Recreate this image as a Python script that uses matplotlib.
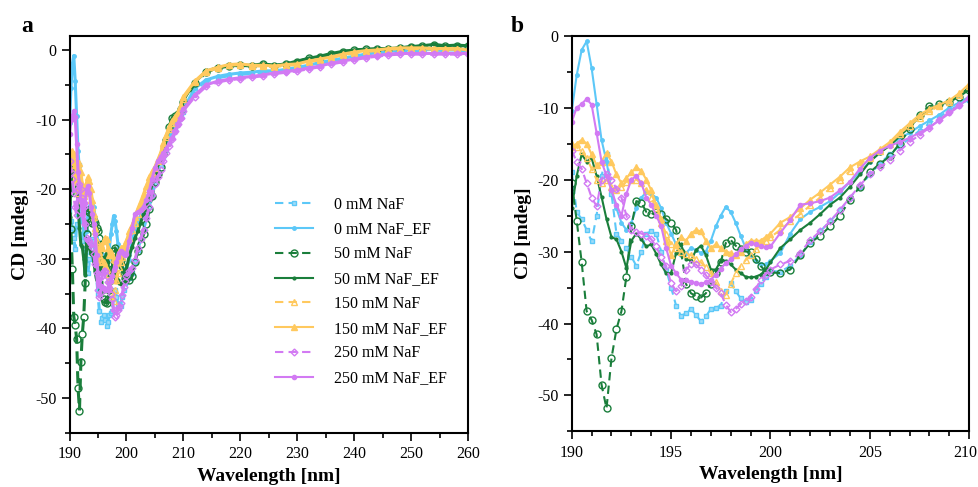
import numpy as np
import matplotlib.pyplot as plt
from matplotlib.ticker import MultipleLocator
from matplotlib.transforms import ScaledTranslation

plt.rcParams['font.family'] = ['Liberation Serif', 'DejaVu Serif']
plt.rcParams['axes.unicode_minus'] = False

# wavelength grid the values were read on (nm)
wl = np.concatenate([np.arange(190, 200.01, 0.25),
                     np.arange(200.5, 210.01, 0.5),
                     np.arange(212, 260.01, 2)])

# CD [mdeg]
naf0 = ([-19, -24.5, -25.5, -27, -28.6, -25, -19.5, -16.5, -22, -27.5,
         -28.5, -29.5, -30.7, -32, -30, -27.5, -27.2, -27.5, -30, -32.5,
         -35, -37.5, -39, -38.5, -38, -38.8, -39.7, -39, -38, -37.8,
         -37.5, -35.5, -34.4, -35.5, -36.5, -37, -36.7, -35.5, -34.5, -33.5, -32.7]
        + [-32.8, -32, -30.5, -28.7, -27.2, -25.8, -24.3, -22.5, -21, -19.3,
           -17.8, -16.5, -15.3, -14.3, -13.2, -12.2, -11.3, -10.4, -9.6, -8.9]
        + [-5.7, -4.5, -4, -3.7, -3.5, -3.4, -3.2, -3.1, -2.9, -2.6, -2.3, -1.9,
           -1.6, -1.3, -1, -0.7, -0.5, -0.3, -0.2, -0.1, -0.1, 0, -0.1, -0.1, -0.1])
naf0_ef = ([-10.5, -5.5, -2, -0.8, -4.5, -9.5, -14.5, -17.5, -21.5, -24,
            -26, -27, -26, -24, -22.5, -21.8, -22, -22.5, -24, -26,
            -27.5, -29, -30.5, -30.2, -29.5, -29.8, -30.2, -30, -28.5, -26.5,
            -25, -23.8, -24.5, -26, -27.8, -29.5, -30.5, -31.3, -31.8, -31.8, -31.3]
           + [-30.2, -27.5, -25.5, -24.5, -23.8, -23, -21.8, -20.3, -19, -17.5,
              -16.3, -15.2, -14.3, -13.5, -12.6, -11.8, -11, -10, -9.3, -8.5]
           + [-5.5, -4.3, -3.8, -3.5, -3.3, -3.2, -3, -3, -2.8, -2.5, -2.2, -1.8,
              -1.5, -1.2, -0.9, -0.6, -0.4, -0.2, -0.1, 0, 0, 0.1, 0, 0, 0])
naf50 = ([-20.5, -25.7, -31.5, -38.3, -39.5, -41.5, -48.5, -51.8, -44.8, -40.8,
          -38.3, -33.5, -26.5, -23, -23.2, -24.5, -24.8, -24.5, -24.8, -25.5,
          -26, -27, -30, -34.5, -35.8, -36.2, -36.4, -35.8, -34.5, -33,
          -31.5, -28.8, -28.4, -29.2, -29.7, -30, -30.1, -31, -32, -32.7, -32.9]
         + [-33, -32.5, -30.5, -28.8, -27.8, -26.5, -25, -22.8, -21, -19,
            -17.8, -16.8, -15, -13, -11, -9.8, -9.5, -9.2, -8.5, -7.5]
         + [-4.8, -3.2, -2.6, -2.3, -2.2, -2.3, -2, -2.3, -2, -1.7, -1.2, -1,
            -0.6, -0.3, 0, 0.1, 0.1, 0.2, 0.3, 0.4, 0.6, 0.7, 0.6, 0.6, 0.6])
naf50_ef = ([-24, -19.5, -16.5, -17.5, -17, -19.5, -22.4, -25.5, -28, -28.3,
             -30, -32.3, -28.5, -27.5, -28.3, -29.3, -29, -30.3, -31.8, -33,
             -33, -30.2, -29, -31, -31.3, -29.8, -29.2, -30.5, -32.5, -32.5,
             -31.3, -31.3, -31.8, -32.5, -33, -33.5, -33.6, -33.5, -33.2, -32.6, -31.5]
            + [-29.5, -28.3, -27, -26, -24.8, -23.5, -22.5, -21, -19.3, -17.5,
               -16.3, -15.3, -14, -12.7, -11.3, -10.2, -9.6, -9.2, -8.3, -7.2]
            + [-4.6, -3.1, -2.5, -2.3, -2.2, -2.2, -2, -2.2, -2, -1.6, -1.2, -0.9,
               -0.5, -0.2, 0, 0.1, 0.2, 0.2, 0.3, 0.5, 0.6, 0.8, 0.6, 0.7, 0.6])
naf150 = ([-15, -15.5, -16, -17, -18.5, -20, -20.5, -20, -21, -21.5,
           -21, -20.3, -20, -20, -20.5, -21.5, -22.5, -24, -26, -27.5,
           -29, -29.5, -30, -30.3, -30.5, -31, -31.5, -32.2, -33, -34.3,
           -35.5, -36, -34.5, -33, -32, -31.2, -30.5, -29.7, -29, -28.5, -28]
          + [-27, -25.8, -24.8, -23.6, -22.5, -21.2, -20, -18.8, -17.8, -17,
             -16, -15, -13.7, -12.5, -11.4, -10.5, -9.8, -9.2, -8.2, -7]
          + [-4.6, -3.1, -2.6, -2.2, -2.1, -2.3, -2.3, -2.4, -2.2, -2.1, -1.7, -1.4,
             -1.1, -0.7, -0.4, -0.2, -0.1, 0.1, 0.2, 0.2, 0.2, 0.1, 0.1, 0.1, -0.1])
naf150_ef = ([-15.5, -15, -14.5, -15, -16.5, -18, -17.5, -16.3, -17.5, -19.3,
              -20.5, -19.8, -19, -18.3, -18.8, -20, -21.5, -23.5, -25.5, -28.5,
              -30.5, -29, -28, -28.5, -27.5, -27, -27.2, -28.5, -29.5, -29,
              -29.5, -30, -30.2, -30.5, -30, -29, -28.5, -28.5, -28.5, -28, -27.5]
             + [-26, -25.2, -24, -22.8, -21.8, -20.7, -19.6, -18.3, -17.5, -16.8,
                -15.8, -14.8, -13.4, -12.2, -11, -10.2, -9.6, -9, -8, -6.7]
             + [-4.5, -3, -2.5, -2.1, -2, -2.2, -2.2, -2.3, -2.1, -2, -1.6, -1.3,
                -1, -0.6, -0.3, -0.1, 0, 0.2, 0.3, 0.3, 0.3, 0.2, 0.2, 0.2, 0])
naf250 = ([-16, -17.5, -18.5, -20.5, -22.5, -23.7, -20, -19.3, -20, -21.3,
           -22.5, -25, -27, -27.3, -27.5, -27.8, -28.3, -29.3, -30.8, -32,
           -34.4, -35.5, -34.8, -32.5, -31.8, -31.8, -32.5, -33.3, -34.2, -35,
           -35.8, -37.4, -38.4, -38, -37.3, -36.9, -36.3, -35.2, -34, -33.2, -32.5]
          + [-31.8, -31.3, -30.2, -28.4, -27.2, -25.8, -24.2, -22.5, -20.8, -19.3,
             -18.3, -17.3, -16, -14.8, -13.8, -12.8, -11.7, -10.6, -9.7, -8.7]
          + [-6.7, -5.2, -4.6, -4.3, -4.1, -3.9, -3.7, -3.4, -3.2, -3, -2.7, -2.4,
             -2, -1.7, -1.4, -1.1, -0.9, -0.7, -0.6, -0.6, -0.6, -0.6, -0.6, -0.6, -0.6])
naf250_ef = ([-12, -10, -9.5, -8.8, -9.6, -13.5, -17.5, -19.5, -21.5, -23.5,
              -25, -22, -20, -19.5, -20.5, -22.5, -23.5, -25, -26.5, -29.5,
              -32, -33, -33.9, -34, -34.2, -34.4, -34.5, -34.3, -33.9, -33.2,
              -32.4, -31.6, -31.1, -30.4, -29.7, -29.2, -28.8, -29, -29.3, -29.4, -29.3]
             + [-27.4, -25.6, -23.5, -23.3, -23, -22.5, -21.5, -20.3, -18.5, -17,
                -16, -15.3, -14.8, -14.2, -13.5, -12.7, -11.8, -10.8, -9.8, -8.5]
             + [-6.5, -5, -4.5, -4.2, -4, -3.8, -3.6, -3.3, -3.1, -2.9, -2.6, -2.3,
                -1.9, -1.6, -1.3, -1, -0.8, -0.6, -0.5, -0.5, -0.5, -0.5, -0.5, -0.5, -0.5])

labels = ['0 mM NaF', '0 mM NaF_EF', '50 mM NaF', '50 mM NaF_EF',
          '150 mM NaF', '150 mM NaF_EF', '250 mM NaF', '250 mM NaF_EF']
series = [naf0, naf0_ef, naf50, naf50_ef, naf150, naf150_ef, naf250, naf250_ef]

blue, green, yellow, purple = '#5cc8f8', '#1a7e3b', '#ffc95e', '#d27af3'
dash = (0, (4, 2.5))
styles = [
    dict(color=blue, ls=dash, marker='s', ms=3, mfc='#9fdcf8', mec=blue),
    dict(color=blue, ls='-', marker='o', ms=2.5, mfc=blue, mec=blue),
    dict(color=green, ls=dash, marker='o', ms=5, mfc='none', mec=green, mew=1),
    dict(color=green, ls='-', marker='o', ms=2, mfc=green, mec=green),
    dict(color=yellow, ls=dash, marker='^', ms=4, mfc='none', mec=yellow, mew=1),
    dict(color=yellow, ls='-', marker='^', ms=4, mfc=yellow, mec=yellow),
    dict(color=purple, ls=dash, marker='D', ms=3.5, mfc='none', mec=purple, mew=1),
    dict(color=purple, ls='-', marker='o', ms=3, mfc=purple, mec=purple),
]

fig = plt.figure(figsize=(9.79, 4.87), dpi=100)
ax_a = fig.add_axes([0.071, 0.111, 0.407, 0.815])
ax_b = fig.add_axes([0.584, 0.114, 0.406, 0.813])

for ax, lw in ((ax_a, 2.2), (ax_b, 1.5)):
    for y, lab, st in zip(series, labels, styles):
        ax.plot(wl, y, lw=lw, label=lab, **st)
    ax.set_xlabel('Wavelength [nm]', fontsize=14, fontweight='bold')
    ax.set_ylabel('CD [mdeg]', fontsize=14, fontweight='bold')
    ax.tick_params(which='major', direction='out', length=6, width=1.2, labelsize=11.5)
    ax.tick_params(which='minor', direction='out', length=3.5, width=1.2)
    ax.yaxis.set_minor_locator(MultipleLocator(5))
    for sp in ax.spines.values():
        sp.set_linewidth(1.5)

ax_a.set_xlim(190, 260)
ax_a.set_ylim(-55, 2)
ax_a.xaxis.set_major_locator(MultipleLocator(10))
ax_a.xaxis.set_minor_locator(MultipleLocator(5))
ax_a.set_yticks([0, -10, -20, -30, -40, -50])

ax_b.set_xlim(190, 210)
ax_b.set_ylim(-55, 0)
ax_b.set_xticks([190, 195, 200, 205, 210])
ax_b.xaxis.set_minor_locator(MultipleLocator(1))
ax_b.set_yticks([0, -10, -20, -30, -40, -50])

# keep the last tick label of panel b inside the figure
last = ax_b.get_xticklabels()[-1]
last.set_transform(last.get_transform() + ScaledTranslation(-3 / 72, 0, fig.dpi_scale_trans))

leg = ax_a.legend(loc='upper left', bbox_to_anchor=(0.515, 0.595), frameon=False,
                  fontsize=11.5, handlelength=2.4, handletextpad=1.3,
                  labelspacing=0.55, borderpad=0, borderaxespad=0)
for h in leg.get_lines():
    h.set_linewidth(1.5)

fig.text(0.022, 0.935, 'a', fontsize=17, fontweight='bold')
fig.text(0.522, 0.935, 'b', fontsize=17, fontweight='bold')

fig.savefig('out.png', dpi=100)
